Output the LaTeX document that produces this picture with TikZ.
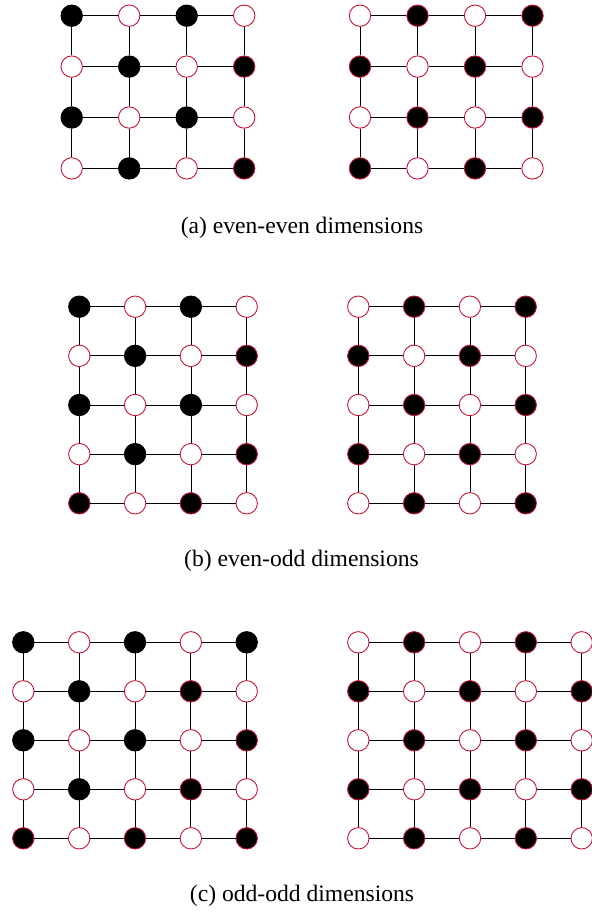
\documentclass[tikz,border=0pt]{standalone}
\usepackage{fontspec}
\setmainfont{Liberation Serif}
\definecolor{crim}{RGB}{196,22,52}
\makeatletter
\newcommand\setsty[3]{%
  \ifnum#1=0 \def\sty{wn}\else
    \in@{*}{#3}%
    \ifin@\def\sty{bnr}\else
      \edef\tmp{\noexpand\in@{,#2,}{,#3,}}\tmp
      \ifin@\def\sty{bnr}\else\def\sty{bn}\fi
    \fi
  \fi}
\makeatother
% #1 name, #2 x0, #3 y0, #4 dx, #5 dy, #6 max col, #7 max row, #8 parity, #9 red list
\newcommand\gridpic[9]{%
  \foreach \r in {0,...,#7}{\foreach \c in {0,...,#6}{%
    \pgfmathtruncatemacro\p{mod(\r+\c+#8,2)}%
    \setsty{\p}{\r-\c}{#9}%
    \node[\sty] (#1-\r-\c) at ({#2+\c*#4},{#3+\r*#5}) {};
  }}%
  \pgfmathtruncatemacro\lc{#6-1}%
  \pgfmathtruncatemacro\lr{#7-1}%
  \foreach \r in {0,...,#7}{\foreach \c [count=\cn from 1] in {0,...,\lc}{%
    \draw[edge] (#1-\r-\c) -- (#1-\r-\cn);
  }}%
  \foreach \c in {0,...,#6}{\foreach \r [count=\rn from 1] in {0,...,\lr}{%
    \draw[edge] (#1-\r-\c) -- (#1-\rn-\c);
  }}%
}
\begin{document}
\begin{tikzpicture}[x=1bp,y=-1bp,
  dot/.style={circle,minimum size=21.4bp,inner sep=0pt,line width=0.9bp},
  wn/.style={dot,draw=crim,fill=white},
  bn/.style={dot,draw=black,fill=black},
  bnr/.style={dot,draw=crim,fill=black},
  edge/.style={draw=black,line width=0.8bp},
  captext/.style={anchor=base,inner sep=0pt,font=\fontsize{23.6bp}{28bp}\selectfont}]
\useasboundingbox (0,0) rectangle (592,917);
\gridpic{AL}{71.7}{15.7}{57.5}{50.9}{3}{3}{1}{1-3,3-3}
\gridpic{AR}{360}{15.7}{57.5}{50.9}{3}{3}{0}{*}
\gridpic{BL}{79.3}{306.7}{55.8}{49.15}{3}{4}{1}{1-3,3-3,4-0,4-2}
\gridpic{BR}{358.3}{306.7}{55.8}{49.15}{3}{4}{0}{*}
\gridpic{CL}{23.3}{642.3}{55.85}{49}{4}{4}{1}{1-3,2-4,3-3,4-0,4-2,4-4}
\gridpic{CR}{358.3}{642.3}{55.85}{49}{4}{4}{0}{*}
\node[captext] (capa) at (302,233) {(a) even-even dimensions};
\node[captext] (capb) at (301.5,566) {(b) even-odd dimensions};
\node[captext] (capc) at (302,901) {(c) odd-odd dimensions};
\end{tikzpicture}
\end{document}
